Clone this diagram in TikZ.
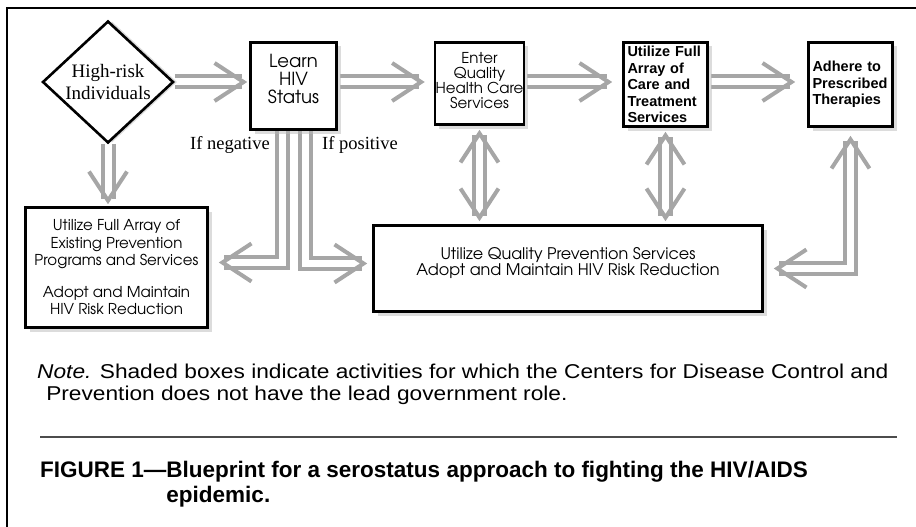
\documentclass[tikz,border=0pt]{standalone}
\usepackage{fontspec}
\usepackage{graphicx}
\setmainfont{Liberation Serif}
\setsansfont{Liberation Sans}
\newfontfamily\gothic{texgyreadventor}[Extension=.otf,UprightFont=*-regular,BoldFont=*-bold]
\usetikzlibrary{arrows.meta,shapes.geometric,shadows,positioning,backgrounds}

\tikzset{
  flowbox/.style={rectangle, draw=black, line width=2.6pt, fill=white, inner sep=3pt,
    drop shadow={shadow xshift=4pt,shadow yshift=-4pt,fill=gray!55}},
  plainbox/.style={flowbox, align=center, font=\gothic\fontsize{18}{18}\selectfont},
  boldbox/.style={flowbox, align=left, inner xsep=4pt, text width=76pt, minimum height=84pt,
    font=\sffamily\bfseries\fontsize{14.5}{16.5}\selectfont},
  barb/.tip={Straight Barb[length=29pt,width=38pt,line width=4pt]},
  grayarrow/.style={draw=gray!70, line width=4pt, double=white, double distance=7pt, -barb},
  grayboth/.style={grayarrow, barb-barb},
  branch/.style={inner sep=0pt, font=\rmfamily\fontsize{18.5}{20}\selectfont},
}

\begin{document}
\begin{tikzpicture}[x=1pt,y=-1pt]
\useasboundingbox (0,0) rectangle (916,527);
\draw[line width=1.6pt] (7,527) -- (7,8) -- (916,8);

% top row
\node[diamond, draw=black, line width=2.6pt, fill=white, inner sep=0pt, align=center,
  minimum width=131pt, minimum height=122pt,
  drop shadow={shadow xshift=4pt,shadow yshift=0pt,fill=gray!55},
  font=\rmfamily\fontsize{19}{22}\selectfont] (hr) at (108,82) {High-risk\\Individuals};
\node[plainbox, minimum width=86pt, minimum height=87pt] (learn) at (293.5,86) {Learn\\HIV\\Status\\[-4pt]\mbox{}};
\node[plainbox, inner xsep=0.5pt, minimum width=84pt, minimum height=82pt, font=\gothic\fontsize{15}{15}\selectfont] (enter) at (479.5,83.5) {Enter\\Quality\\Health Care\\Services\\[-9pt]\mbox{}};
\node[boldbox] (care) at (665.5,84.5) {\mbox{}\\[-6pt]Utilize Full\\Array of\\Care and\\Treatment\\Services};
\node[boldbox] (adhere) at (850.5,84.5) {Adhere to\\Prescribed\\Therapies};

% bottom row
\node[plainbox, minimum width=182pt, minimum height=120pt, font=\gothic\fontsize{15}{17.5}\selectfont] (prevent) at (116.5,267.5)
  {Utilize Full Array of\\Existing Prevention\\Programs and Services\\[14pt]Adopt and Maintain\\HIV Risk Reduction};
\node[plainbox, minimum width=389pt, minimum height=86pt, font=\gothic\fontsize{16}{16}\selectfont] (quality) at (568,268.5)
  {Utilize Quality Prevention Services\\Adopt and Maintain HIV Risk Reduction\\[-1pt]\mbox{}};

\coordinate (negtop) at ([xshift=-11.5pt]learn.south);
\coordinate (postop) at ([xshift=11.5pt]learn.south);
\node[branch, below left=5pt and 12pt of negtop] (ifneg) {If negative};
\node[branch, below right=5pt and 17pt of postop] (ifpos) {If positive};

\begin{scope}[on background layer]
\draw[grayarrow, shorten >=2pt] (hr.east) -- (hr.east -| learn.west);
\draw[grayarrow, shorten <=2pt, shorten >=9pt] (learn.east |- hr.east) -- (hr.east -| enter.west);
\draw[grayarrow, shorten <=2pt, shorten >=10pt] (enter.east |- hr.east) -- (hr.east -| care.west);
\draw[grayarrow, shorten <=2pt, shorten >=12pt] (care.east |- hr.east) -- (hr.east -| adhere.west);
\draw[grayarrow, shorten >=2pt] (hr.south) -- (hr.south |- prevent.north);
\draw[grayboth, shorten <=4pt, shorten >=3pt] (enter.south) -- (enter.south |- quality.north);
\draw[grayboth, shorten <=4pt, shorten >=3pt] (care.south) -- (care.south |- quality.north);
\draw[grayarrow, shorten >=10pt] (negtop) |- ([yshift=5pt]prevent.east);
\draw[grayarrow, shorten >=5pt] (postop) |- ([yshift=5pt]quality.west);
\draw[grayboth, shorten <=10pt, shorten >=8pt] (quality.east) -| (adhere.south);
\end{scope}

% note and caption
\node[anchor=north west, inner sep=0pt, font=\sffamily\fontsize{20}{22}\selectfont] (note) at (37,363)
  {\scalebox{1.135}[1]{\begin{tabular}{@{}l@{}}\textit{Note.} Shaded boxes indicate activities for which the Centers for Disease Control and\\
   \hspace*{8pt}Prevention does not have the lead government role.\end{tabular}}};
\draw[line width=1.6pt, black!70] (40,437) -- (897,437);
\node[anchor=north west, inner sep=0pt, font=\sffamily\bfseries\fontsize{22.5}{25}\selectfont] (caption) at (40,460)
  {\begin{tabular}{@{}l@{}l@{}}FIGURE 1—&Blueprint for a serostatus approach to fighting the HIV/AIDS\\ &epidemic.\end{tabular}};
\end{tikzpicture}
\end{document}
